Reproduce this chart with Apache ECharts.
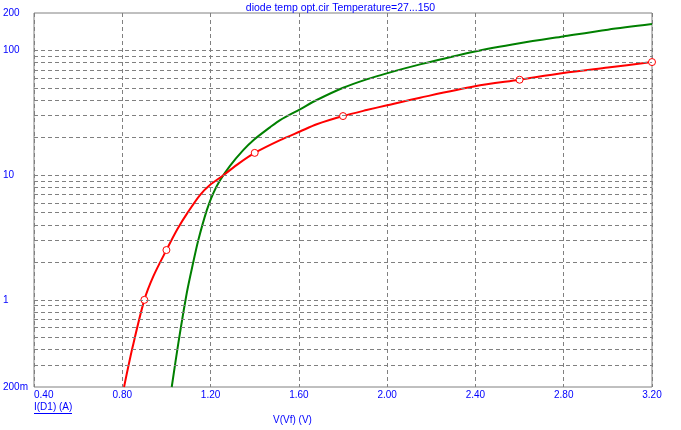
<!DOCTYPE html>
<html>
<head>
<meta charset="utf-8">
<script src="https://cdn.jsdelivr.net/npm/echarts@6/dist/echarts.min.js"></script>
<style>
  html, body { margin: 0; padding: 0; background: #fff; }
  #chart { width: 681px; height: 430px; }
</style>
</head>
<body>
<div id="chart"></div>
<script>
  // red trace (with circle markers)
  const redV = [0.808, 0.847, 0.90, 0.941, 1.00, 1.05, 1.099, 1.152, 1.197, 1.258, 1.33, 1.40, 1.515, 1.605, 1.681, 1.80, 1.907, 2.00, 2.149, 2.398, 2.60, 2.798, 3.00, 3.20]
  const redI = [0.2, 0.42, 1.0, 1.55, 2.51, 3.7, 5.1, 6.93, 8.34, 10.0, 12.5, 15.1, 19.1, 22.4, 25.6, 29.8, 33.3, 36.4, 41.8, 51.6, 58.3, 65.9, 73, 80.8]
  const redMarkerV = [0.90, 1.00, 1.40, 1.80, 2.60, 3.20]

  // green trace
  const greenV = [1.024, 1.054, 1.092, 1.122, 1.144, 1.183, 1.212, 1.243, 1.288, 1.348, 1.394, 1.469, 1.515, 1.605, 1.681, 1.801, 1.907, 1.998, 2.149, 2.398, 2.60, 2.798, 3.00, 3.20]
  const greenI = [0.2, 0.45, 1.13, 2.02, 3.0, 5.25, 7.15, 9.1, 11.9, 15.9, 19.1, 24.2, 27.7, 33.8, 40.1, 50.3, 58.7, 65.6, 77.4, 98.4, 114.5, 129.8, 147, 163]

  // horizontal grid lines (log minor ticks)
  const yGridValues = [0.3, 0.4, 0.5, 0.6, 0.7, 0.8, 0.9, 1, 2, 3, 4, 5, 6, 7, 8, 9, 10, 20, 30, 40, 50, 60, 70, 80, 90, 100]

  const titleText = 'diode temp opt.cir Temperature=27...150'
  const blue = '#0000ff'
  const gray = '#808080'
  const font = 'Liberation Sans, Arial, sans-serif'

  const redData = redV.map((v, i) => {
    const marked = redMarkerV.some((m) => Math.abs(m - v) < 1e-9)
    return {
      value: [v, redI[i]],
      symbol: marked ? 'circle' : 'none',
    }
  })

  const chart = echarts.init(document.getElementById('chart'), null, { renderer: 'canvas' })

  chart.setOption({
    animation: false,
    backgroundColor: '#fff',
    textStyle: { fontFamily: font },
    title: {
      text: titleText,
      left: 'center',
      top: -2,
      textStyle: { color: blue, fontSize: 10.5, fontWeight: 'normal', fontFamily: font },
    },
    grid: {
      left: 34,
      right: 29,
      top: 13,
      bottom: 43,
      show: true,
      borderColor: gray,
      borderWidth: 1,
      backgroundColor: 'transparent',
    },
    xAxis: {
      type: 'value',
      min: 0.4,
      max: 3.2,
      interval: 0.4,
      axisLine: { show: false },
      axisTick: { show: false },
      axisLabel: {
        color: blue,
        fontSize: 10,
        fontFamily: font,
        margin: 3,
        alignMinLabel: 'left',
        formatter: (v) => v.toFixed(2),
      },
      splitLine: {
        show: true,
        lineStyle: { color: gray, type: [4, 3], width: 1 },
      },
    },
    yAxis: {
      type: 'log',
      logBase: 10,
      min: 0.2,
      max: 200,
      axisLine: { show: false },
      axisTick: { show: false },
      axisLabel: {
        color: blue,
        fontSize: 10,
        fontFamily: font,
        align: 'left',
        margin: 31,
        formatter: (v) => {
          const r = Math.round(v * 1000) / 1000
          return r < 1 ? Math.round(r * 1000) + 'm' : String(Math.round(r))
        },
      },
      splitLine: { show: false },
      minorSplitLine: { show: false },
    },
    graphic: [
      {
        type: 'text',
        left: 34,
        top: 402,
        style: { text: 'I(D1) (A)', fill: blue, font: '10px ' + font },
      },
      {
        type: 'line',
        shape: { x1: 34, y1: 413.5, x2: 72, y2: 413.5 },
        style: { stroke: blue, lineWidth: 1 },
      },
      {
        type: 'text',
        left: 273,
        top: 415,
        style: { text: 'V(Vf) (V)', fill: blue, font: '10px ' + font },
      },
    ],
    series: [
      {
        name: 'grid',
        type: 'line',
        data: [],
        silent: true,
        markLine: {
          silent: true,
          symbol: ['none', 'none'],
          label: { show: false },
          lineStyle: { color: gray, type: [4, 3], width: 1 },
          data: yGridValues.map((v) => ({ yAxis: v })),
        },
      },
      {
        name: 'green',
        type: 'line',
        data: greenV.map((v, i) => [v, greenI[i]]),
        showSymbol: false,
        smooth: 0.3,
        lineStyle: { color: '#008000', width: 2 },
        itemStyle: { color: '#008000' },
      },
      {
        name: 'red',
        type: 'line',
        data: redData,
        smooth: 0.3,
        symbolSize: 7,
        lineStyle: { color: '#ff0000', width: 2 },
        itemStyle: { color: '#fff', borderColor: '#ff0000', borderWidth: 1 },
      },
    ],
  })
</script>
</body>
</html>
